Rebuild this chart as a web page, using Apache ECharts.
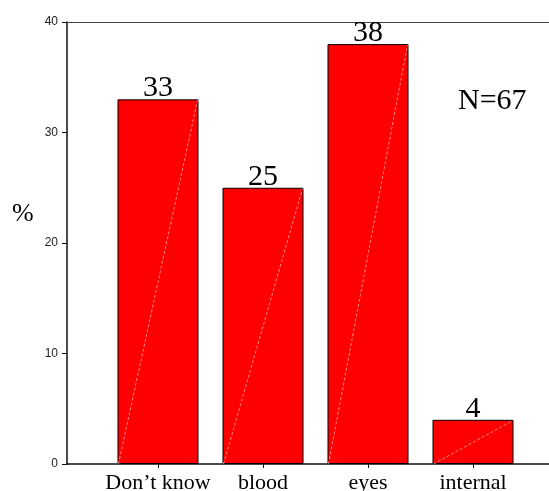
<!DOCTYPE html>
<html>
<head>
<meta charset="utf-8">
<script src="https://cdn.jsdelivr.net/npm/echarts@6/dist/echarts.min.js"></script>
<style>
  html, body { margin: 0; padding: 0; background: #fff; }
  #chart { width: 549px; height: 491px; }
</style>
</head>
<body>
<div id="chart"></div>
<script>
// Answer categories and their share of respondents (%)
const categories = ['Don\u2019t know', 'blood', 'eyes', 'internal'];
const percents = [33, 25, 38, 4];

// Value axis range and step
const yMin = 0;
const yMax = 40;
const yStep = 10;

const sampleNote = 'N=67';
const yAxisTitle = '%';

const SERIF = '"Liberation Serif", "Times New Roman", serif';
const SANS = '"Liberation Sans", Arial, sans-serif';
const BAR_WIDTH = 81;

const chart = echarts.init(document.getElementById('chart'), null, { renderer: 'canvas' });

// Light diagonal stroke across each bar, corner to corner
function renderDiagonal(params, api) {
  const idx = api.value(0);
  const val = api.value(1);
  const base = api.coord([idx, 0]);
  const top = api.coord([idx, val]);
  const half = BAR_WIDTH / 2;
  return {
    type: 'line',
    shape: { x1: base[0] - half + 1, y1: base[1], x2: top[0] + half - 1, y2: top[1] + 1 },
    style: { stroke: 'rgba(255,190,190,0.9)', lineWidth: 0.8, lineDash: [3, 2] },
    silent: true
  };
}

const option = {
  animation: false,
  backgroundColor: '#fff',
  grid: [
    // frame grid: holds the value axis and the full-width lines
    { left: 67, right: 0, top: 22, bottom: 27, outerBoundsMode: 'none', containLabel: false },
    // category grid: holds the bars
    { left: 105.5, right: 23.5, top: 22, bottom: 27, outerBoundsMode: 'none', containLabel: false }
  ],
  xAxis: [
    {
      gridIndex: 0, type: 'value', min: 0, max: 1, position: 'bottom',
      axisLine: { show: true, lineStyle: { color: '#111', width: 1.5 } },
      axisTick: { show: false }, axisLabel: { show: false }, splitLine: { show: false }
    },
    {
      gridIndex: 0, type: 'value', min: 0, max: 1, position: 'top',
      axisLine: { show: true, lineStyle: { color: '#444', width: 1 } },
      axisTick: { show: false }, axisLabel: { show: false }, splitLine: { show: false }
    },
    {
      gridIndex: 1, type: 'category', data: categories, position: 'bottom',
      axisLine: { show: false },
      axisTick: { show: true, alignWithLabel: true, interval: 0, length: 4, lineStyle: { color: '#111', width: 1 } },
      axisLabel: { color: '#000', fontFamily: SERIF, fontSize: 22, margin: 8, interval: 0 },
      splitLine: { show: false }
    }
  ],
  yAxis: [
    {
      gridIndex: 0, type: 'value', min: yMin, max: yMax, interval: yStep,
      axisLine: { show: true, lineStyle: { color: '#111', width: 1.5 } },
      axisTick: { show: true, length: 5, lineStyle: { color: '#111', width: 1 } },
      axisLabel: { color: '#222', fontFamily: SANS, fontSize: 12, margin: 9 },
      splitLine: { show: false }
    },
    {
      gridIndex: 1, type: 'value', min: yMin, max: yMax, interval: yStep,
      show: false
    }
  ],
  series: [
    {
      type: 'bar',
      xAxisIndex: 2, yAxisIndex: 1,
      data: percents,
      barWidth: BAR_WIDTH,
      itemStyle: { color: '#ff0000', borderColor: '#000', borderWidth: 1 },
      label: {
        show: true, position: 'top', distance: -4,
        color: '#000', fontFamily: SERIF, fontSize: 30,
        formatter: '{c}'
      }
    },
    {
      type: 'custom',
      xAxisIndex: 2, yAxisIndex: 1,
      data: percents.map((v, i) => [i, v]),
      renderItem: renderDiagonal,
      z: 5
    }
  ],
  graphic: [
    {
      type: 'text', left: 12, top: 201,
      style: { text: yAxisTitle, font: '26px ' + SERIF, fill: '#000' }
    },
    {
      type: 'text', left: 458, top: 86,
      style: { text: sampleNote, font: '30px ' + SERIF, fill: '#000' }
    }
  ]
};

chart.setOption(option);
</script>
</body>
</html>
